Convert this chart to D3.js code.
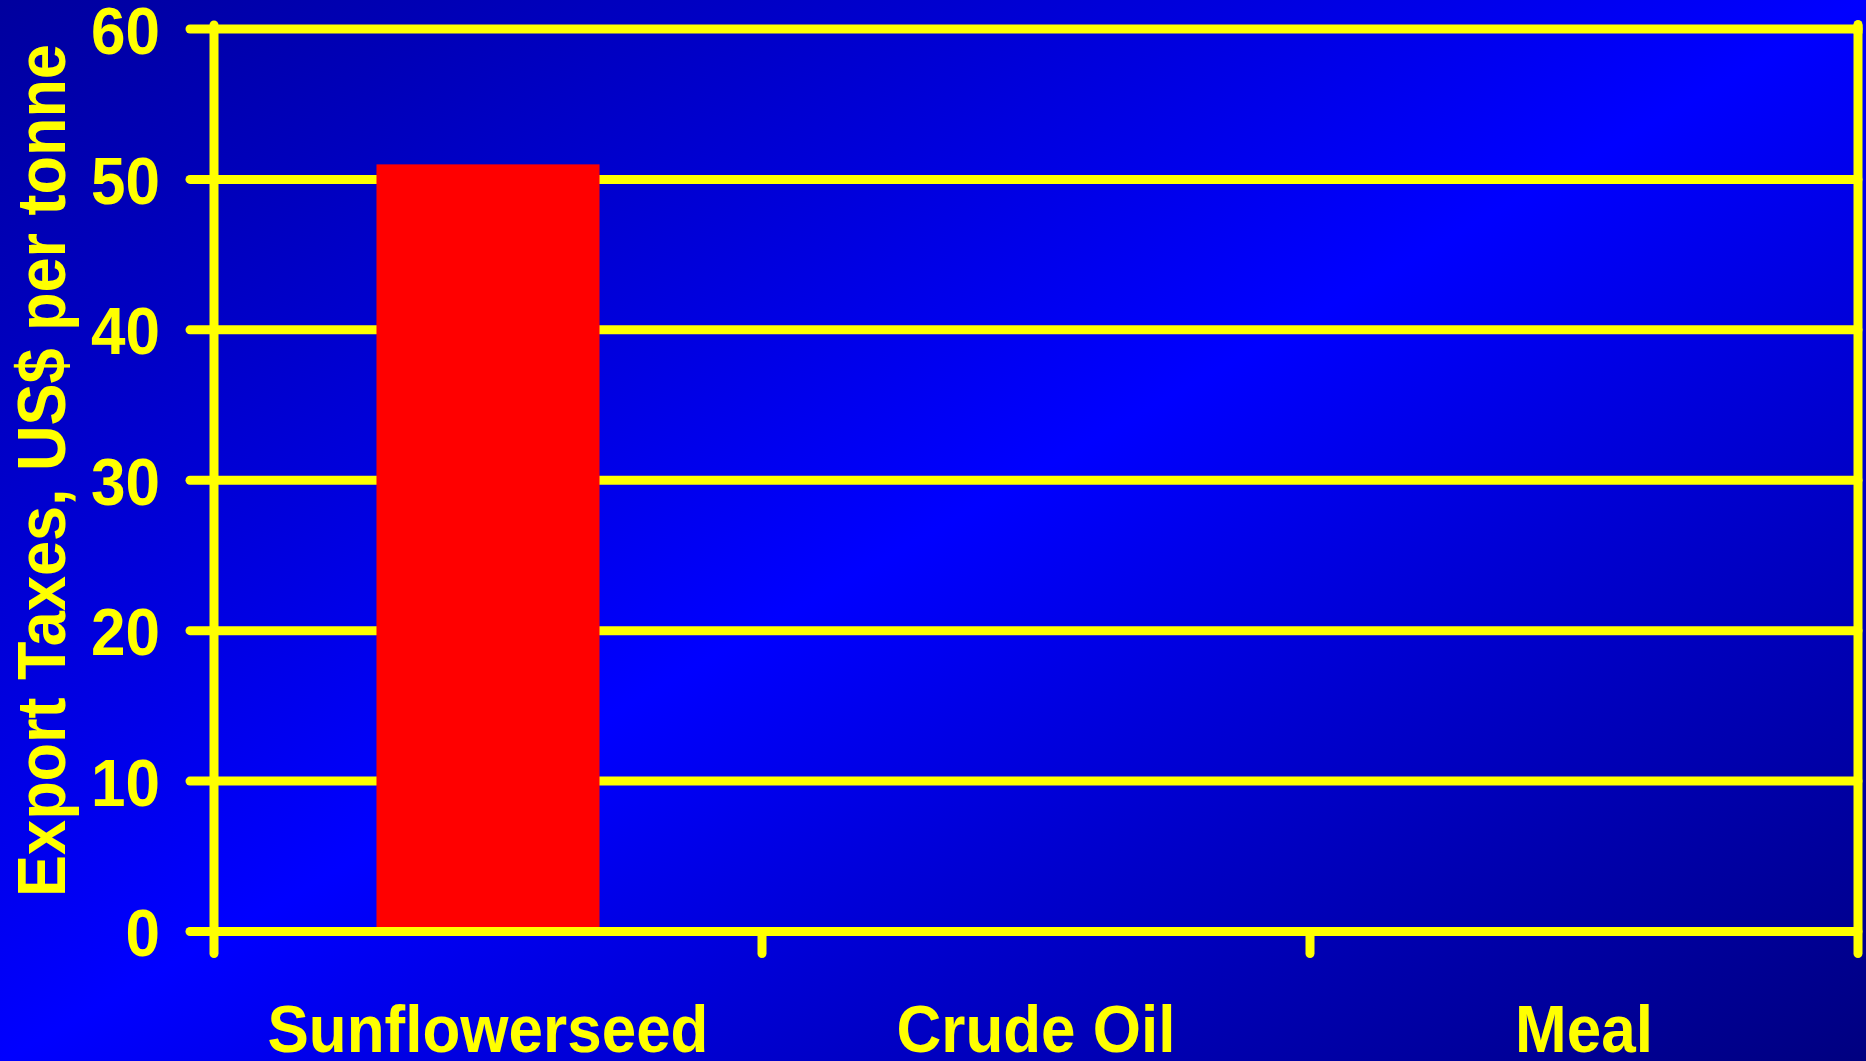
<!DOCTYPE html>
<html><head><meta charset="utf-8">
<script src="https://cdn.jsdelivr.net/npm/d3@7"></script>
<style>html,body{margin:0;padding:0;overflow:hidden;background:#0000ff}</style>
</head><body>
<script>
const categories = ["Sunflowerseed", "Crude Oil", "Meal"];
const values = [51, 0, 0];
const yTicks = [0, 10, 20, 30, 40, 50, 60];
const yTitle = "Export Taxes, US$ per tonne";

(function () {
const W = 1866, H = 1061;
const svg = d3.select("body").append("svg").attr("width", W).attr("height", H);
const defs = svg.append("defs");
const grad = defs.append("linearGradient").attr("id", "bg")
  .attr("x1", 0).attr("y1", 0).attr("x2", 1).attr("y2", 1);
grad.append("stop").attr("offset", "0%").attr("stop-color", "#00009e");
grad.append("stop").attr("offset", "50%").attr("stop-color", "#0000ff");
grad.append("stop").attr("offset", "100%").attr("stop-color", "#000080");
svg.append("rect").attr("width", W).attr("height", H).attr("fill", "url(#bg)");

const pLeft = 214, pRight = 1858, pTop = 29, pBottom = 931.5;
const x = d3.scaleBand().domain(categories).range([pLeft, pRight]).padding(0);
const y = d3.scaleLinear().domain([0, 60]).range([pBottom, pTop]);
const yellow = "#ffff00";
const sw = 9;
const font = "'Liberation Sans', Arial, Helvetica, sans-serif";
const stretch = 1.09;

// gridlines with tick stubs
svg.append("g").selectAll("line").data(yTicks.filter(d => d > 0)).join("line")
  .attr("x1", pLeft - 24).attr("x2", pRight)
  .attr("y1", d => y(d)).attr("y2", d => y(d))
  .attr("stroke", yellow).attr("stroke-width", sw).attr("stroke-linecap", "round");

// bars
const barW = x.bandwidth() * 0.407;
svg.append("g").selectAll("rect").data(categories).join("rect")
  .attr("x", (d) => x(d) + x.bandwidth() / 2 - barW / 2)
  .attr("width", barW)
  .attr("y", (d, i) => y(values[i]))
  .attr("height", (d, i) => y(0) - y(values[i]))
  .attr("fill", "#ff0000");

// baseline
svg.append("line").attr("x1", pLeft - 24).attr("x2", pRight).attr("y1", y(0)).attr("y2", y(0))
  .attr("stroke", yellow).attr("stroke-width", sw).attr("stroke-linecap", "round");
// left axis
svg.append("line").attr("x1", pLeft).attr("x2", pLeft).attr("y1", pTop - 4).attr("y2", pBottom + 22)
  .attr("stroke", yellow).attr("stroke-width", sw).attr("stroke-linecap", "round");
// right border
svg.append("line").attr("x1", pRight).attr("x2", pRight).attr("y1", pTop - 4.5).attr("y2", pBottom + 22)
  .attr("stroke", yellow).attr("stroke-width", sw).attr("stroke-linecap", "round");
svg.append("rect").attr("x", pRight - 4.5).attr("y", pTop - 4.5).attr("width", 9).attr("height", 9).attr("fill", yellow);
// x ticks at band boundaries
svg.append("g").selectAll("line").data(categories.slice(1)).join("line")
  .attr("x1", d => x(d)).attr("x2", d => x(d))
  .attr("y1", pBottom).attr("y2", pBottom + 22)
  .attr("stroke", yellow).attr("stroke-width", sw).attr("stroke-linecap", "round");

// y tick labels
svg.append("g").selectAll("text").data(yTicks).join("text")
  .attr("transform", d => `translate(160, ${y(d) + 24.5}) scale(1, ${stretch})`)
  .attr("text-anchor", "end").attr("fill", yellow)
  .style("font-family", font).style("font-weight", "bold").style("font-size", "62px")
  .text(d => d);

// x labels
svg.append("g").selectAll("text").data(categories).join("text")
  .attr("transform", d => `translate(${x(d) + x.bandwidth() / 2}, 1052) scale(1, ${stretch})`)
  .attr("text-anchor", "middle").attr("fill", yellow)
  .style("font-family", font).style("font-weight", "bold").style("font-size", "62px")
  .text(d => d);

// y title
svg.append("text")
  .attr("transform", `translate(65, ${(36 + 905) / 2}) rotate(-90) scale(1, ${stretch})`)
  .attr("text-anchor", "middle").attr("fill", yellow)
  .style("font-family", font).style("font-weight", "bold").style("font-size", "63px")
  .text(yTitle);
})();
</script>
</body></html>
